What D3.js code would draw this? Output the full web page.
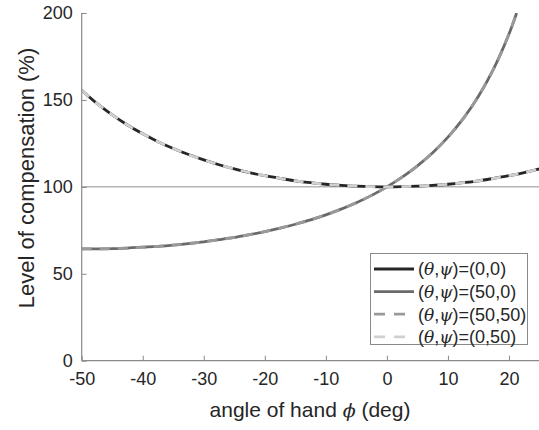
<!DOCTYPE html>
<html><head><meta charset="utf-8">
<script src="https://cdnjs.cloudflare.com/ajax/libs/d3/7.8.5/d3.min.js"></script>
<style>
html,body{margin:0;padding:0;background:#fff;}
svg{display:block;font-family:"Liberation Sans",Arial,Helvetica,sans-serif;}
</style></head>
<body><svg id="chart" width="539" height="430"></svg>
<script>
// angle of hand phi (deg)
const phi = [-50,-47.5,-45,-42.5,-40,-37.5,-35,-32.5,-30,-27.5,-25,-22.5,-20,-17.5,-15,-12.5,-10,-7.5,-5,-2.5,0,2.5,5,7.5,10,12.5,15,17.5,20,22.5,25];
// theta = 0 curves: (0,0) and (0,50) coincide
const comp0 = [155.6,148.0,141.4,135.6,130.5,126.0,122.1,118.6,115.5,112.7,110.3,108.2,106.4,104.9,103.5,102.4,101.5,100.9,100.4,100.1,100,100.1,100.4,100.9,101.5,102.4,103.5,104.9,106.4,108.2,110.3];
// theta = 50 curves: (50,0) and (50,50) coincide
const phi50 = [-50,-47.5,-45,-42.5,-40,-37.5,-35,-32.5,-30,-27.5,-25,-22.5,-20,-17.5,-15,-12.5,-10,-7.5,-5,-2.5,0,2.5,5,7.5,10,12.5,15,17.5,20,21.25];
const comp50 = [64.3,64.3,64.5,64.8,65.3,65.8,66.5,67.4,68.4,69.6,70.9,72.5,74.2,76.2,78.5,81.0,83.9,87.2,90.9,95.1,100,105.6,112.1,119.6,128.6,139.2,152.1,168.0,187.9,200];
const seriesNames = ["(0,0)","(50,0)","(50,50)","(0,50)"];
const xTicks = [-50,-40,-30,-20,-10,0,10,20];
const yTicks = [0,50,100,150,200];
const refLevel = [100];

const series = [
  {name: seriesNames[0], x: phi, y: comp0, color:"#262626", dash:null},
  {name: seriesNames[1], x: phi50, y: comp50, color:"#6a6a6a", dash:null},
  {name: seriesNames[2], x: phi50, y: comp50, color:"#9a9a9a", dash:"10,8"},
  {name: seriesNames[3], x: phi, y: comp0, color:"#d0d0d0", dash:"10,8"}
];

const svg = d3.select("#chart");
const L = 81.7, R = 539.5, T = 13, B = 360.7;
const x = d3.scaleLinear().domain([-50,25]).range([L,R]);
const y = d3.scaleLinear().domain([0,200]).range([B,T]);

svg.append("clipPath").attr("id","clip").append("rect")
  .attr("x",L).attr("y",T).attr("width",R-L).attr("height",B-T);

// reference line
svg.selectAll("line.ref").data(refLevel).enter().append("line")
  .attr("x1",L).attr("x2",R).attr("y1",d=>y(d)).attr("y2",d=>y(d))
  .attr("stroke","#b4b4b4").attr("stroke-width",1.5);

const line = d3.line().curve(d3.curveCatmullRom.alpha(0.5));
const g = svg.append("g").attr("clip-path","url(#clip)");
series.forEach(s=>{
  g.append("path")
    .attr("d", line(s.x.map((v,i)=>[x(v), y(s.y[i])])))
    .attr("fill","none").attr("stroke",s.color).attr("stroke-width",2.8)
    .attr("stroke-dasharray", s.dash);
});

// axes
const axCol = "#8a8a8a", txtCol = "#262626";
const fmt = d => String(d);
const xAxis = svg.append("g").attr("transform",`translate(0,${B})`)
  .call(d3.axisBottom(x).tickValues(xTicks).tickSize(-5).tickPadding(12).tickFormat(fmt));
const yAxis = svg.append("g").attr("transform",`translate(${L},0)`)
  .call(d3.axisLeft(y).tickValues(yTicks).tickSize(-5).tickPadding(9).tickFormat(fmt));
[xAxis,yAxis].forEach(a=>{
  a.select(".domain").attr("stroke",axCol).attr("stroke-width",1.2);
  a.selectAll(".tick line").attr("stroke",axCol);
  a.selectAll(".tick text").attr("fill",txtCol).attr("font-size",18)
   .attr("font-family","'Liberation Sans',Arial,sans-serif");
});
xAxis.select(".domain").attr("d",`M${L},0H${R}`);
yAxis.select(".domain").attr("d",`M0,${B}V${T}`);
xAxis.selectAll(".tick text").attr("dy","0.71em");

// axis labels
const xl = svg.append("text").attr("x",310).attr("y",417)
  .attr("text-anchor","middle").attr("font-size",21).attr("fill",txtCol);
xl.append("tspan").text("angle of hand ");
xl.append("tspan").attr("font-style","italic").attr("font-family","'DejaVu Serif',serif").attr("font-size",19).text("ϕ");
xl.append("tspan").text(" (deg)");

svg.append("text").attr("transform",`translate(34,${178}) rotate(-90)`)
  .attr("text-anchor","middle").attr("font-size",22).attr("fill",txtCol)
  .text("Level of compensation (%)");

// legend
const lg = svg.append("g");
lg.append("rect").attr("x",370.5).attr("y",253.5).attr("width",157).attr("height",91)
  .attr("fill","#fff").attr("stroke","#8a8a8a").attr("stroke-width",1);
series.forEach((s,i)=>{
  const cy = 269 + i*22.6;
  lg.append("line").attr("x1",374).attr("x2",414).attr("y1",cy).attr("y2",cy)
    .attr("stroke",s.color).attr("stroke-width",2.8).attr("stroke-dasharray", s.dash ? "11,9" : null);
  const t = lg.append("text").attr("x",418).attr("y",cy).attr("dy","0.35em")
    .attr("font-size",18).attr("fill",txtCol);
  t.append("tspan").text("(");
  t.append("tspan").attr("font-style","italic").attr("font-family","'DejaVu Serif',serif").attr("font-size",17).text("θ");
  t.append("tspan").text(",");
  t.append("tspan").attr("font-style","italic").attr("font-family","'DejaVu Serif',serif").attr("font-size",17).text("ψ");
  t.append("tspan").text(")=" + s.name);
});
</script></body></html>
